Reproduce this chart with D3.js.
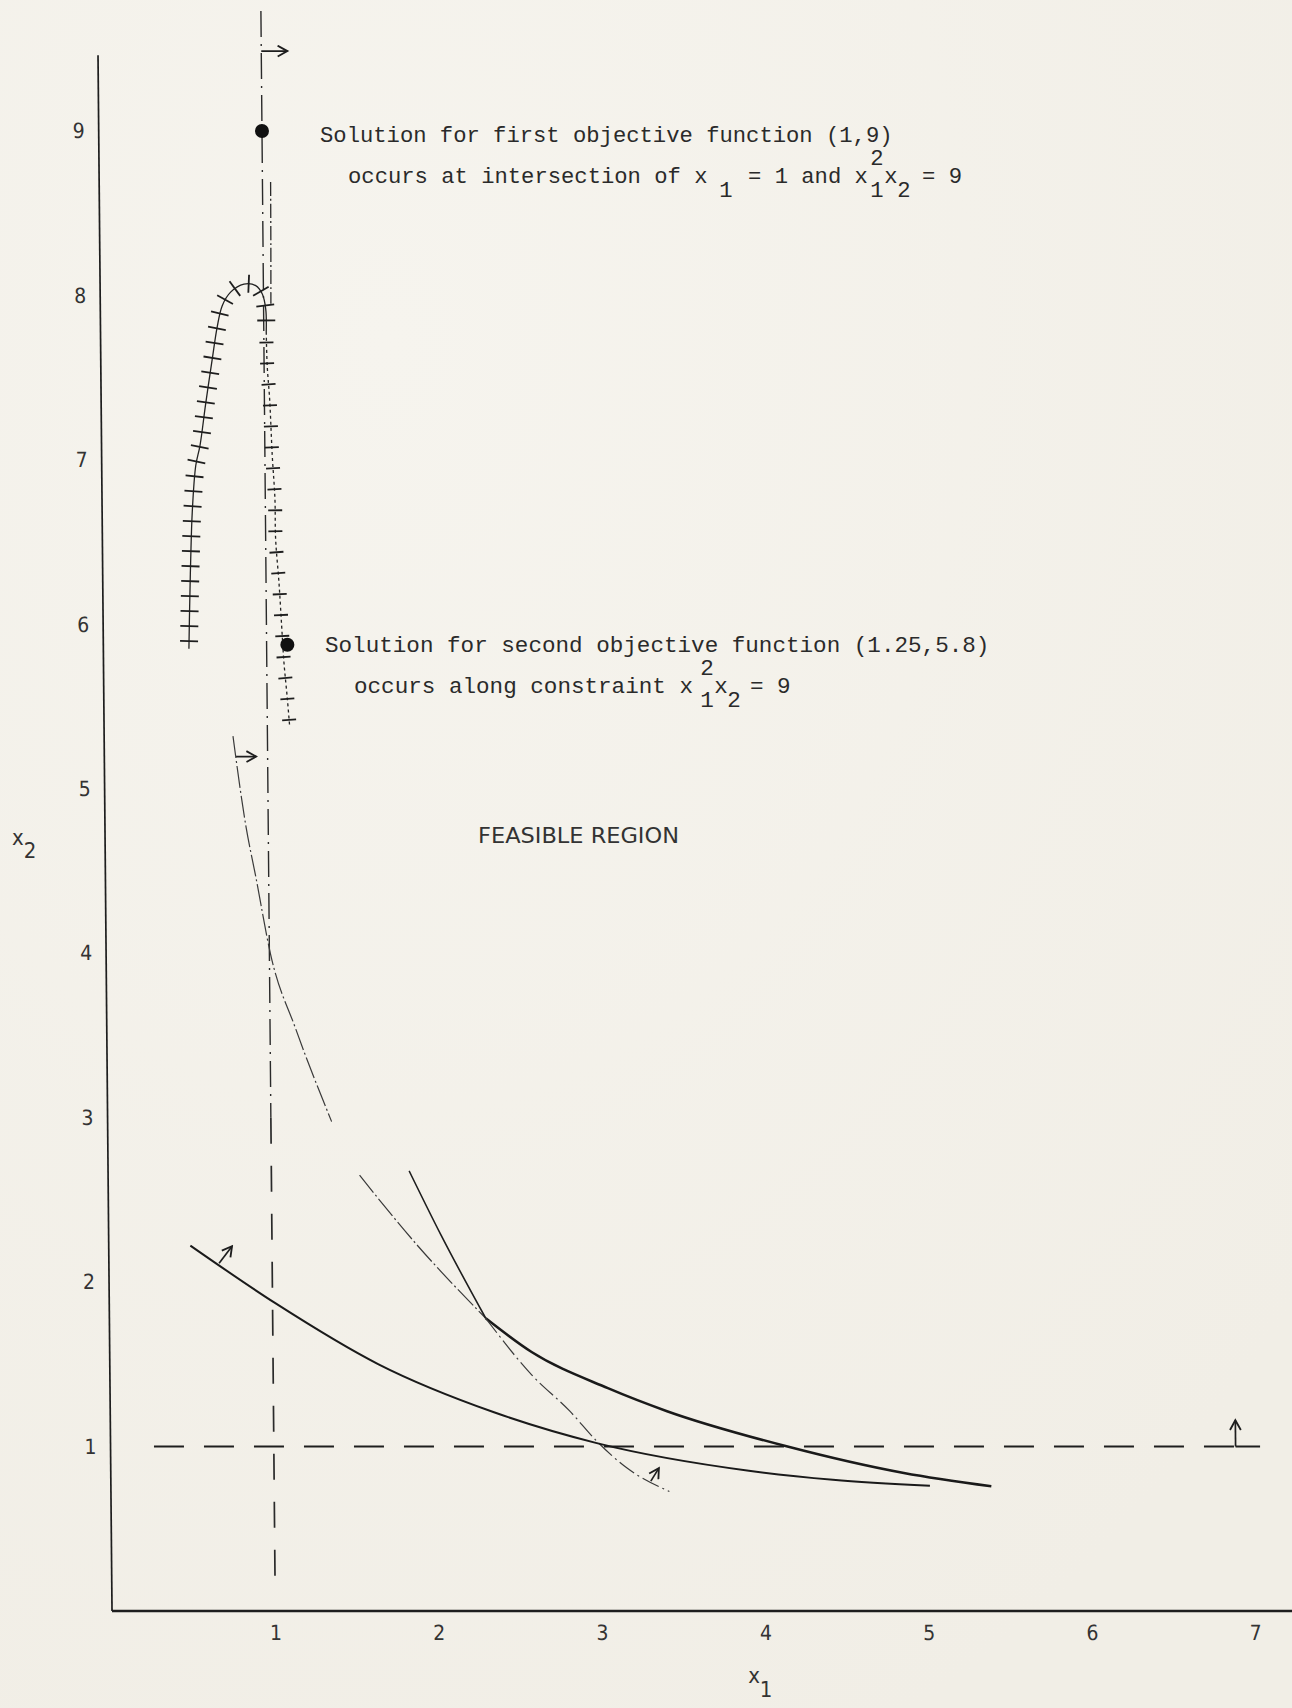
<!DOCTYPE html>
<html>
<head>
<meta charset="utf-8">
<script src="https://cdn.jsdelivr.net/npm/d3@7"></script>
<style>
  body { margin: 0; background: #f4f2eb; }
  svg { display: block; }
  .mono { font-family: "Liberation Mono", "DejaVu Sans Mono", monospace; fill: #2a2a2a; }
  .narrow { font-family: "Liberation Sans Narrow", "DejaVu Sans Condensed", "Roboto Condensed", sans-serif; font-stretch: condensed; fill: #333; }
</style>
</head>
<body>
<svg id="chart"></svg>
<script>
const W = 1292, H = 1708;

const xTicks = [1, 2, 3, 4, 5, 6, 7];
const yTicks = [1, 2, 3, 4, 5, 6, 7, 8, 9];

// x1*x2 boundary (dash-dot upper part, heavy lower part)
const prodUpperA = [[0.789, 5.32], [0.862, 4.78], [0.920, 4.47], [1.008, 3.99], [1.157, 3.54], [1.372, 2.976]];
const prodUpperB = [[1.54, 2.65], [1.888, 2.226], [2.305, 1.78]];
const prodLower = [[2.305, 1.78], [2.584, 1.575], [3.049, 1.355], [3.41, 1.215], [4.134, 1.003], [4.857, 0.839], [5.392, 0.758]];

// x1^2 x2 = 9
const sqTop = [[1.05, 8.69], [1.048, 8.3], [1.045, 7.95]];
const sqSteep = [[1.844, 2.676], [2.035, 2.287], [2.305, 1.78]];
const sqLower = [[2.305, 1.78], [2.583, 1.436], [2.815, 1.215], [2.978, 1.033], [3.162, 0.869], [3.42, 0.727]];

// lower solid curve
const curveC = [[0.5, 2.222], [1.017, 1.872], [1.646, 1.50], [2.346, 1.21], [2.978, 1.021], [3.908, 0.853], [4.422, 0.798], [5.016, 0.761]];

// hatched path near the top
const hookLeft = [[0.524, 5.852], [0.531, 6.115], [0.540, 6.399], [0.552, 6.683], [0.576, 6.966], [0.603, 7.087],
  [0.640, 7.341], [0.683, 7.614], [0.715, 7.809], [0.747, 7.938], [0.799, 8.02], [0.881, 8.069], [0.953, 8.06],
  [0.993, 8.009], [1.013, 7.918], [1.015, 7.778]];
const hookRight = [[1.015, 7.778], [1.019, 7.573], [1.032, 7.371], [1.045, 7.027], [1.059, 6.763], [1.061, 6.52],
  [1.079, 6.257], [1.093, 5.994], [1.105, 5.771], [1.124, 5.548], [1.137, 5.376]];

const solutions = [[1, 9], [1.127, 5.876]];

// constraint lines x1 = 1 and x2 = 1
const vertUpper = [[1, 9.73], [1, 3.0]];
const vertLower = [[1, 3.0], [1, 0.1]];
const horiz = [[0.266, 1], [6.89, 1]];

// direction arrows
const arrows = [
  [[1, 9.486], [1.16, 9.486]],
  [[0.807, 5.196], [0.93, 5.196]],
  [[0.675, 2.115], [0.755, 2.218]],
  [[3.307, 0.79], [3.357, 0.869]],
  [[6.89, 1], [6.89, 1.16]]
];
const footLine = [[6.89, 1], [7.04, 1]];

const x = d3.scaleLinear().domain([0, 7]).range([112, 1255]);
const y = d3.scaleLinear().domain([0, 9]).range([1611, 131]);

const svg = d3.select("#chart").attr("width", W).attr("height", H);

// paper
const defs = svg.append("defs");
const bg = defs.append("radialGradient").attr("id", "paper")
  .attr("cx", "30%").attr("cy", "20%").attr("r", "90%");
bg.append("stop").attr("offset", "0%").attr("stop-color", "#f6f4ee");
bg.append("stop").attr("offset", "100%").attr("stop-color", "#f1eee6");
svg.append("rect").attr("width", W).attr("height", H).attr("fill", "url(#paper)");

defs.append("marker")
  .attr("id", "arr")
  .attr("viewBox", "-1 -6 12 12")
  .attr("refX", 9).attr("refY", 0)
  .attr("markerUnits", "userSpaceOnUse")
  .attr("markerWidth", 13).attr("markerHeight", 13)
  .attr("orient", "auto")
  .append("path")
  .attr("d", "M0,-5 L9,0 L0,5")
  .attr("fill", "none").attr("stroke", "#1e1e1e").attr("stroke-width", 1.7);

// the scanned sheet is slightly sheared, keep that look
const k = 0.009, base = 1609;
const g = svg.append("g").attr("transform", `matrix(1,0,${k},1,${-k * base},0)`);

const smooth = d3.line().x(d => x(d[0])).y(d => y(d[1])).curve(d3.curveMonotoneX);
const line = d3.line().x(d => x(d[0])).y(d => y(d[1])).curve(d3.curveCatmullRom.alpha(0.5));
const straight = d3.line().x(d => x(d[0])).y(d => y(d[1]));

// axes
g.append("line").attr("x1", x(0)).attr("x2", x(0)).attr("y1", y(9.46)).attr("y2", y(0))
  .attr("stroke", "#1e1e1e").attr("stroke-width", 1.7);
g.append("line").attr("x1", x(0)).attr("x2", x(7.3)).attr("y1", y(0)).attr("y2", y(0))
  .attr("stroke", "#1e1e1e").attr("stroke-width", 2.4);

const xAxis = g.append("g").attr("transform", `translate(0,${y(0)})`)
  .call(d3.axisBottom(x).tickValues(xTicks).tickSize(0).tickPadding(14).tickFormat(d3.format("d")));
const yAxis = g.append("g").attr("transform", `translate(${x(0)},0)`)
  .call(d3.axisLeft(y).tickValues(yTicks).tickSize(0).tickPadding(14).tickFormat(d3.format("d")));
[xAxis, yAxis].forEach(a => {
  a.select(".domain").remove();
  a.selectAll("text").attr("class", "narrow").attr("font-size", 21).attr("fill", "#333");
});

// constraint lines
g.append("path").attr("d", straight(vertUpper)).attr("fill", "none")
  .attr("stroke", "#2a2a2a").attr("stroke-width", 1.4).attr("stroke-dasharray", "26,7,2,7");
g.append("path").attr("d", straight(vertLower)).attr("fill", "none")
  .attr("stroke", "#2a2a2a").attr("stroke-width", 1.7).attr("stroke-dasharray", "26,22");
g.append("path").attr("d", straight(horiz)).attr("fill", "none")
  .attr("stroke", "#1e1e1e").attr("stroke-width", 2).attr("stroke-dasharray", "30,20");
g.append("path").attr("d", straight(footLine)).attr("fill", "none")
  .attr("stroke", "#1e1e1e").attr("stroke-width", 2);

// curves
const curves = [
  { data: prodUpperA, w: 1.2, dash: "22,3,2,3", c: "#3a3a3a" },
  { data: prodUpperB, w: 1.2, dash: "22,3,2,3", c: "#3a3a3a" },
  { data: prodLower, w: 2.5, dash: null, c: "#1a1a1a" },
  { data: sqSteep, w: 1.6, dash: null, c: "#1e1e1e" },
  { data: sqLower, w: 1.2, dash: "18,4,2,4", c: "#3a3a3a" },
  { data: curveC, w: 2, dash: null, c: "#1a1a1a" }
];
curves.forEach(cv => {
  g.append("path").attr("d", smooth(cv.data)).attr("fill", "none")
    .attr("stroke", cv.c).attr("stroke-width", cv.w)
    .attr("stroke-dasharray", cv.dash);
});
g.append("path").attr("d", line(sqTop)).attr("fill", "none")
  .attr("stroke", "#2a2a2a").attr("stroke-width", 1.3).attr("stroke-dasharray", "14,3,2,3");

// hatched path
function hatch(data, dash, spacing, half) {
  const p = g.append("path").attr("d", line(data)).attr("fill", "none")
    .attr("stroke", "#222").attr("stroke-width", 1.3).attr("stroke-dasharray", dash);
  const node = p.node(), len = node.getTotalLength();
  const ticks = [];
  for (let l = spacing * 0.5; l < len; l += spacing) {
    const a = node.getPointAtLength(Math.max(0, l - 1)), b = node.getPointAtLength(Math.min(len, l + 1));
    const c = node.getPointAtLength(l);
    const dx = b.x - a.x, dy = b.y - a.y, n = Math.hypot(dx, dy) || 1;
    ticks.push({ x1: c.x - dy / n * half, y1: c.y + dx / n * half, x2: c.x + dy / n * half, y2: c.y - dx / n * half });
  }
  g.selectAll(null).data(ticks).join("line")
    .attr("x1", d => d.x1).attr("y1", d => d.y1).attr("x2", d => d.x2).attr("y2", d => d.y2)
    .attr("stroke", "#1e1e1e").attr("stroke-width", 1.8);
}
hatch(hookLeft, null, 15, 9);
hatch(hookRight, "3,3", 21, 7);

// arrows
g.selectAll(null).data(arrows).join("path")
  .attr("d", d => straight(d)).attr("fill", "none")
  .attr("stroke", "#1e1e1e").attr("stroke-width", 1.7)
  .attr("marker-end", "url(#arr)");

// solution points
g.selectAll(null).data(solutions).join("circle")
  .attr("cx", d => x(d[0])).attr("cy", d => y(d[1])).attr("r", 7)
  .attr("fill", "#111");

// annotations
function typed(parts, baseline, size) {
  parts.forEach(p => {
    svg.append("text").attr("class", "mono").attr("font-size", size)
      .attr("x", p[1]).attr("y", baseline + (p[2] || 0))
      .attr("text-anchor", p[3] || "start")
      .attr("xml:space", "preserve")
      .text(p[0]);
  });
}
typed([["Solution for first objective function (1,9)", 320]], 142, 22.2);
typed([
  ["occurs at intersection of x", 348],
  ["1", 726, 14, "middle"],
  ["= 1 and x", 748],
  ["2", 877, -18, "middle"],
  ["1", 877, 14, "middle"],
  ["x", 891, 0, "middle"],
  ["2", 904, 14, "middle"],
  ["= 9", 922]
], 183, 22.2);
typed([["Solution for second objective function (1.25,5.8)", 325]], 652, 22.6);
typed([
  ["occurs along constraint x", 354],
  ["2", 707, -18, "middle"],
  ["1", 707, 14, "middle"],
  ["x", 721, 0, "middle"],
  ["2", 734, 14, "middle"],
  ["= 9", 750]
], 693, 22.6);

svg.append("text").attr("class", "narrow").attr("font-size", 21)
  .attr("x", 478).attr("y", 843).attr("textLength", 201).attr("lengthAdjust", "spacingAndGlyphs")
  .text("FEASIBLE REGION");

// axis titles
const t2 = svg.append("text").attr("class", "narrow").attr("font-size", 22).attr("x", 12).attr("y", 845);
t2.append("tspan").text("x");
t2.append("tspan").attr("dy", 13).text("2");
const t1 = svg.append("text").attr("class", "narrow").attr("font-size", 22).attr("x", x(4) - 17).attr("y", 1683);
t1.append("tspan").text("x");
t1.append("tspan").attr("dy", 14).text("1");
</script>
</body>
</html>
